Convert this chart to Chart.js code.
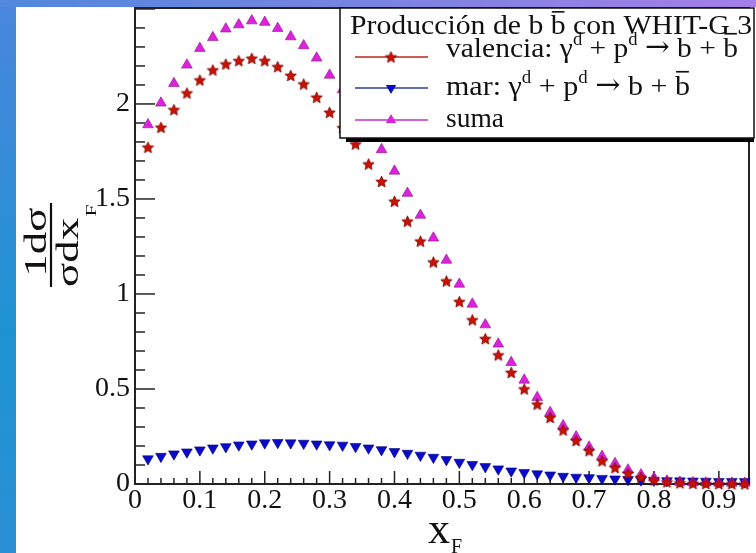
<!DOCTYPE html>
<html><head><meta charset="utf-8">
<script src="https://cdn.jsdelivr.net/npm/chart.js@4.4.0/dist/chart.umd.min.js"></script>
<style>html,body{margin:0;padding:0;background:#fff}#wrap{width:756px;height:553px;position:relative}</style>
</head><body><div id="wrap"><canvas id="c" width="756" height="553"></canvas></div>
<script>
// ---------- data ----------
const xValues = [0.02,0.04,0.06,0.08,0.10,0.12,0.14,0.16,0.18,0.20,0.22,0.24,0.26,0.28,0.30,0.32,0.34,0.36,0.38,0.40,0.42,0.44,0.46,0.48,0.50,0.52,0.54,0.56,0.58,0.60,0.62,0.64,0.66,0.68,0.70,0.72,0.74,0.76,0.78,0.80,0.82,0.84,0.86,0.88,0.90,0.92,0.94];
const valencia = [1.772,1.877,1.970,2.058,2.126,2.179,2.210,2.228,2.240,2.228,2.196,2.150,2.105,2.035,1.956,1.875,1.789,1.684,1.592,1.488,1.383,1.278,1.168,1.068,0.960,0.864,0.765,0.679,0.587,0.500,0.420,0.350,0.284,0.228,0.175,0.122,0.086,0.056,0.035,0.021,0.011,0.006,0.003,0.002,0.001,0.001,0.000];
const mar = [0.132,0.145,0.158,0.168,0.179,0.189,0.196,0.205,0.210,0.216,0.218,0.216,0.214,0.210,0.206,0.204,0.197,0.189,0.180,0.170,0.161,0.151,0.140,0.128,0.114,0.102,0.091,0.079,0.068,0.060,0.053,0.047,0.040,0.035,0.033,0.029,0.026,0.023,0.021,0.019,0.017,0.016,0.015,0.014,0.013,0.013,0.012];
const suma = [1.891,2.005,2.108,2.205,2.293,2.350,2.395,2.417,2.438,2.430,2.398,2.354,2.307,2.242,2.152,2.075,1.975,1.865,1.760,1.647,1.530,1.415,1.295,1.178,1.052,0.947,0.838,0.737,0.640,0.547,0.456,0.377,0.307,0.249,0.195,0.146,0.108,0.074,0.049,0.032,0.016,0.010,0.007,0.006,0.005,0.005,0.005];
const xTickValues = [0,0.1,0.2,0.3,0.4,0.5,0.6,0.7,0.8,0.9];
const xTickLabels = ['0','0.1','0.2','0.3','0.4','0.5','0.6','0.7','0.8','0.9'];
const yTickValues = [0,0.5,1,1.5,2];
const yTickLabels = ['0','0.5','1','1.5','2'];
const seriesNames = ['valencia','mar','suma'];
const legendTitle = [{t:'Producción de b '},{t:'b',bar:true},{t:' con WHIT-G 3'}];
const legendTexts = [
  [{t:'valencia: γ'},{t:'d',sup:true},{t:' + p'},{t:'d',sup:true},{t:' '},{t:'→',arrow:true},{t:' b + '},{t:'b',bar:true}],
  [{t:'mar: γ'},{t:'d',sup:true},{t:' + p'},{t:'d',sup:true},{t:' '},{t:'→',arrow:true},{t:' b + '},{t:'b',bar:true}],
  [{t:'suma'}]
];

// ---------- styling ----------
const SERIF = 'Liberation Serif';
const RED = '#cc1100', RED_EDGE = '#7a0000';
const BLUE = '#0a0acc', BLUE_EDGE = '#00007a';
const MAG = '#dd22dd', MAG_EDGE = '#8a108a';

function makeStar(r, fill, stroke){
  const s = Math.ceil(2*r+3);
  const c = document.createElement('canvas'); c.width = s; c.height = s;
  const g = c.getContext('2d');
  g.beginPath();
  for (let i=0;i<10;i++){
    const a = -Math.PI/2 + i*Math.PI/5;
    const rr = (i%2) ? r*0.45 : r;
    g.lineTo(s/2 + rr*Math.cos(a), s/2 + rr*Math.sin(a) + 0.6);
  }
  g.closePath(); g.fillStyle = fill; g.fill();
  g.lineWidth = 0.8; g.strokeStyle = stroke; g.stroke();
  return c;
}
const starImg = makeStar(6, RED, RED_EDGE);

function pts(arr){ return xValues.map((x,i)=>({x:x, y:arr[i]})); }

function segFont(s, size){
  if (s.sup) return Math.round(size*0.62) + 'px "' + SERIF + '"';
  if (s.arrow) return Math.round(size*1.0) + 'px "DejaVu Serif"';
  return size + 'px "' + SERIF + '"';
}
function richWidth(ctx, segs, size){
  let w = 0;
  for (const s of segs){ ctx.font = segFont(s, size); w += ctx.measureText(s.t).width; }
  return w;
}
function drawRich(ctx, x, y, segs, size){
  let cx = x;
  for (const s of segs){
    ctx.font = segFont(s, size);
    const yy = s.sup ? y - size*0.42 : (s.arrow ? y - size*0.02 : y);
    ctx.fillText(s.t, cx, yy);
    const w = ctx.measureText(s.t).width;
    if (s.bar){
      ctx.save(); ctx.lineWidth = 1.6; ctx.strokeStyle = ctx.fillStyle;
      ctx.beginPath(); ctx.moveTo(cx+1, y - size*0.82); ctx.lineTo(cx+w-1, y - size*0.82); ctx.stroke();
      ctx.restore();
    }
    cx += w;
  }
  return cx;
}
function drawRichFit(ctx, x, y, segs, size, targetW, sy){
  const w = richWidth(ctx, segs, size);
  ctx.save(); ctx.translate(x, y); ctx.scale(targetW / w, sy || 1);
  drawRich(ctx, 0, 0, segs, size);
  ctx.restore();
}

const bgPlugin = {
  id:'bg',
  beforeDraw(chart){
    const ctx = chart.ctx, W = chart.width, H = chart.height;
    ctx.save();
    const g1 = ctx.createLinearGradient(0,0,0,H);
    g1.addColorStop(0,'#4a86dc'); g1.addColorStop(0.6,'#1f93d2'); g1.addColorStop(1,'#2a8fd4');
    ctx.fillStyle = g1; ctx.fillRect(0,0,16,H);
    const g2 = ctx.createLinearGradient(0,0,W,0);
    g2.addColorStop(0,'#4f88dc'); g2.addColorStop(1,'#a57ee8');
    ctx.fillStyle = g2; ctx.fillRect(0,0,W,7);
    ctx.fillStyle = '#ffffff'; ctx.fillRect(16,7,W-16,H-7);
    ctx.restore();
  }
};

const framePlugin = {
  id:'frame',
  beforeDatasetsDraw(chart){
    const ctx = chart.ctx, a = chart.chartArea, xs = chart.scales.x, ys = chart.scales.y;
    ctx.save();
    ctx.strokeStyle = '#222'; ctx.lineWidth = 1.5;
    for (let i=0;i<=47;i++){
      const v = i*0.02; if (v > xs.max) break;
      const px = xs.getPixelForValue(v);
      const major = (i%5===0);
      ctx.beginPath(); ctx.moveTo(px, a.bottom); ctx.lineTo(px, a.bottom - (major?13:6)); ctx.stroke();
    }
    for (let i=0;i<=25;i++){
      const v = i*0.1; if (v > ys.max) break;
      const py = ys.getPixelForValue(v);
      const major = (i%5===0);
      ctx.beginPath(); ctx.moveTo(a.left, py); ctx.lineTo(a.left + (major?20:10), py); ctx.stroke();
    }
    ctx.lineWidth = 2; ctx.strokeStyle = '#222';
    ctx.strokeRect(a.left, a.top, a.right - a.left, a.bottom - a.top);
    ctx.restore();
  },
  afterDatasetsDraw(chart){
    const ctx = chart.ctx;
    ctx.save();
    const bx = 340, by = 8, bw = 414, bh = 130;
    ctx.fillStyle = '#fff'; ctx.fillRect(bx, by, bw, bh);
    ctx.fillStyle = '#000'; ctx.fillRect(bx+6, by+bh, bw-6, 4);
    ctx.strokeStyle = '#111'; ctx.lineWidth = 1.5; ctx.strokeRect(bx, by, bw, bh);
    ctx.fillStyle = '#111'; ctx.textBaseline = 'alphabetic'; ctx.textAlign = 'left';
    drawRichFit(ctx, 350, 34, legendTitle, 27, 402, 1);
    const lineY = [57, 88, 120], textY = [57, 95, 127];
    const textW = [292, 244, 58];
    const cols = ['#b42a1e', '#2a3aa8', '#c030c8'];
    for (let i=0;i<3;i++){
      ctx.strokeStyle = cols[i]; ctx.lineWidth = 1.6;
      ctx.beginPath(); ctx.moveTo(355, lineY[i]); ctx.lineTo(428, lineY[i]); ctx.stroke();
      const mx = 391, my = lineY[i];
      if (i===0){ ctx.drawImage(starImg, mx - starImg.width/2, my - starImg.height/2); }
      else {
        const r = 6, dir = (i===1) ? 1 : -1;
        ctx.beginPath();
        ctx.moveTo(mx, my + dir*r);
        ctx.lineTo(mx + r*0.866, my - dir*r*0.5);
        ctx.lineTo(mx - r*0.866, my - dir*r*0.5);
        ctx.closePath();
        ctx.fillStyle = (i===1)?BLUE:MAG; ctx.fill();
      }
      ctx.fillStyle = '#111';
      drawRichFit(ctx, 446, textY[i], legendTexts[i], 27, textW[i], 1.05);
    }
    // x-axis title
    ctx.font = '44px "' + SERIF + '"';
    ctx.fillText('x', 428, 543);
    ctx.font = '20px "' + SERIF + '"';
    ctx.fillText('F', 451, 553);
    // y-axis title (fraction, rotated)
    ctx.translate(51, 245); ctx.rotate(-Math.PI/2); ctx.scale(1.45, 1);
    ctx.font = '31px "' + SERIF + '"';
    ctx.textAlign = 'center';
    ctx.fillText('1dσ', 2, -5);
    ctx.lineWidth = 2.2; ctx.strokeStyle = '#111';
    ctx.beginPath(); ctx.moveTo(-29, 0); ctx.lineTo(29, 0); ctx.stroke();
    ctx.textAlign = 'left';
    ctx.fillText('σdx', -29, 27);
    const wd = ctx.measureText('σdx').width;
    ctx.font = '15px "' + SERIF + '"';
    ctx.fillText('F', -29 + wd + 1, 45);
    ctx.restore();
  }
};

function zeroPad(s){ s.paddingTop = 0; s.paddingBottom = 0; s.paddingLeft = 0; s.paddingRight = 0; }

new Chart(document.getElementById('c'), {
  type: 'line',
  data: {
    datasets: [
      { label: seriesNames[0], data: pts(valencia), showLine:false, pointStyle: starImg, pointRadius: 6, order: 0, clip: false,
        backgroundColor: RED, borderColor: RED_EDGE },
      { label: seriesNames[1], data: pts(mar), showLine:false, pointStyle: 'triangle', rotation: 180, pointRadius: 6.2, order: 2, clip: false,
        backgroundColor: BLUE, borderColor: BLUE_EDGE, pointBorderWidth: 0.6 },
      { label: seriesNames[2], data: pts(suma), showLine:false, pointStyle: 'triangle', pointRadius: 6.2, order: 1, clip: false,
        backgroundColor: MAG, borderColor: MAG_EDGE, pointBorderWidth: 0.6 }
    ]
  },
  options: {
    responsive: false, animation: false,
    layout: { padding: { left: 0, top: 8, right: 2, bottom: 0 } },
    plugins: { legend: { display: false }, tooltip: { enabled: false } },
    scales: {
      x: { type: 'linear', min: 0, max: 0.9465,
        grid: { display: false, drawTicks: false }, border: { display: false },
        afterBuildTicks: s => { s.ticks = xTickValues.map(v => ({ value: v })); },
        ticks: { callback: (v, i) => xTickLabels[i], font: { family: SERIF, size: 28 }, color: '#111', padding: 0, maxRotation: 0, autoSkip: false },
        afterFit: s => { s.height = 69; zeroPad(s); } },
      y: { type: 'linear', min: 0, max: 2.505,
        grid: { display: false, drawTicks: false }, border: { display: false },
        afterBuildTicks: s => { s.ticks = yTickValues.map(v => ({ value: v })); },
        ticks: { callback: (v, i) => yTickLabels[i], font: { family: SERIF, size: 28 }, color: '#111', padding: 5, autoSkip: false },
        afterFit: s => { s.width = 135; zeroPad(s); } }
    }
  },
  plugins: [bgPlugin, framePlugin]
});
</script></body></html>
